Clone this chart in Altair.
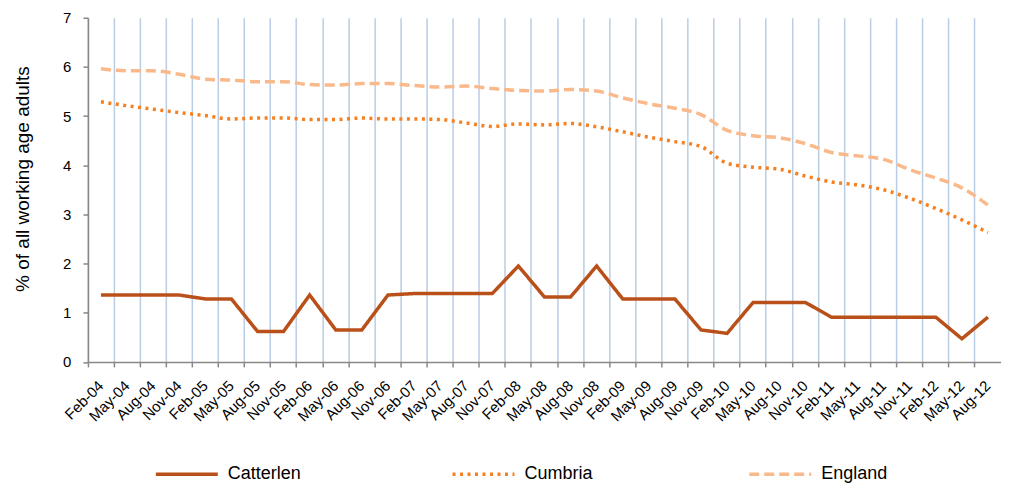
import altair as alt
import pandas as pd

months = ["Feb-04", "May-04", "Aug-04", "Nov-04", "Feb-05", "May-05", "Aug-05", "Nov-05",
          "Feb-06", "May-06", "Aug-06", "Nov-06", "Feb-07", "May-07", "Aug-07", "Nov-07",
          "Feb-08", "May-08", "Aug-08", "Nov-08", "Feb-09", "May-09", "Aug-09", "Nov-09",
          "Feb-10", "May-10", "Aug-10", "Nov-10", "Feb-11", "May-11", "Aug-11", "Nov-11",
          "Feb-12", "May-12", "Aug-12"]

catterlen = [1.36, 1.36, 1.36, 1.36, 1.28, 1.28, 0.62, 0.62, 1.36, 0.65, 0.65, 1.36,
             1.39, 1.39, 1.39, 1.39, 1.95, 1.32, 1.32, 1.95, 1.28, 1.28, 1.28, 0.65,
             0.58, 1.21, 1.21, 1.21, 0.91, 0.91, 0.91, 0.91, 0.91, 0.47, 0.91]

cumbria = [5.29, 5.21, 5.14, 5.07, 5.01, 4.94, 4.96, 4.96, 4.93, 4.93, 4.96, 4.94,
           4.94, 4.93, 4.86, 4.79, 4.84, 4.82, 4.85, 4.78, 4.68, 4.57, 4.48, 4.38,
           4.04, 3.96, 3.92, 3.78, 3.66, 3.60, 3.50, 3.33, 3.12, 2.89, 2.63]

england = [5.96, 5.92, 5.92, 5.85, 5.75, 5.73, 5.70, 5.70, 5.64, 5.63, 5.66, 5.66,
           5.62, 5.59, 5.61, 5.56, 5.52, 5.51, 5.54, 5.51, 5.37, 5.25, 5.16, 5.03,
           4.71, 4.60, 4.56, 4.44, 4.26, 4.19, 4.12, 3.91, 3.74, 3.54, 3.19]

series_names = ["Catterlen", "Cumbria", "England"]
series_colors = ["#BA5019", "#F6801F", "#FAB98A"]
series_dash = [[1, 0], [3, 4.5], [10, 5]]
series_width = [3.5, 3.5, 4]

rows = []
for name, vals in zip(series_names, [catterlen, cumbria, england]):
    for m, v in zip(months, vals):
        rows.append({"month": m, "value": v, "series": name})
df = pd.DataFrame(rows)

FONT = "Liberation Sans"
W = 914

x = alt.X(
    "month:O", sort=months,
    scale=alt.Scale(type="band", paddingInner=0, paddingOuter=0),
    axis=alt.Axis(
        title=None, bandPosition=0, grid=True, gridColor="#B9CDE5", gridWidth=1.5,
        domainColor="#888888", domainWidth=1.5, tickColor="#888888", tickWidth=1.5,
        tickSize=5, labelAngle=-45, labelAlign="right", labelBaseline="middle",
        labelPadding=16, labelFont=FONT, labelFontSize=15,
        labelColor="#000000", labelOverlap=False,
    ),
)
y = alt.Y(
    "value:Q",
    scale=alt.Scale(domain=[0, 7], nice=False),
    axis=alt.Axis(
        title="% of all working age adults", values=[0, 1, 2, 3, 4, 5, 6, 7],
        grid=False, domainColor="#888888", domainWidth=1.5, tickColor="#888888",
        tickWidth=1.5, tickSize=5, labelPadding=12, labelFont=FONT, labelFontSize=15,
        labelColor="#000000", titleFont=FONT, titleFontSize=19, titleFontWeight="normal",
        titleColor="#000000", titleX=-55, titleY=161,
    ),
)
color = alt.Color(
    "series:N",
    scale=alt.Scale(domain=series_names, range=series_colors),
    legend=alt.Legend(
        title=None, orient="none", legendX=66, legendY=424, direction="horizontal",
        columns=3, gridAlign="all", columnPadding=144, padding=0,
        symbolType="stroke", symbolSize=3844, labelOffset=8, labelFont=FONT,
        labelFontSize=18, labelColor="#000000", labelLimit=300,
    ),
)
dash = alt.StrokeDash("series:N", scale=alt.Scale(domain=series_names, range=series_dash))
width = alt.StrokeWidth("series:N", scale=alt.Scale(domain=series_names, range=series_width))

base = alt.Chart(df).encode(x=x, y=y, color=color, strokeDash=dash, strokeWidth=width)

solid = base.transform_filter(alt.datum.series == "Catterlen").mark_line(interpolate="linear")
smooth = base.transform_filter(alt.datum.series != "Catterlen").mark_line(interpolate="monotone")

chart = alt.layer(smooth, solid).properties(
    width=W, height=344.5,
    autosize=alt.AutoSizeParams(type="none"),
    padding={"left": 80, "top": 9.5, "right": 0, "bottom": 121},
    background="white",
).configure_view(stroke=None)

chart.save("out.html", embed_options={"renderer": "svg", "actions": False})
